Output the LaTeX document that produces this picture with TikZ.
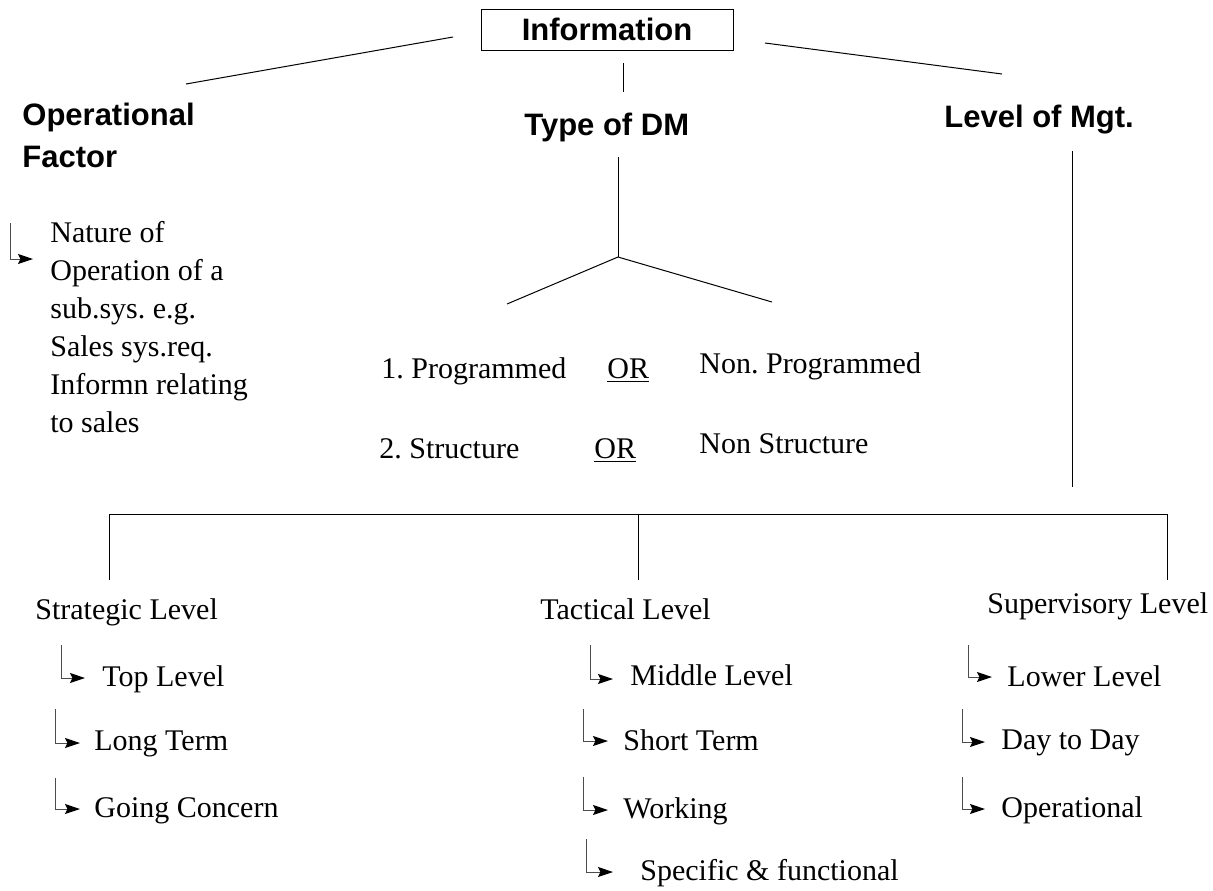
\documentclass[tikz,border=0pt]{standalone}
\usepackage{fontspec}
\setmainfont{Liberation Serif}
\newfontfamily\hdfont{Liberation Sans}
\usetikzlibrary{arrows.meta}
\frenchspacing
\begin{document}
\begin{tikzpicture}[x=0.5pt,y=-0.5pt,
  ln/.style={line width=0.5pt, draw=black},
  arr/.style={line width=0.5pt, draw=black!70, -{Stealth[length=7.5pt,width=5pt,inset=1.2pt,black]}},
  hd/.style={font=\hdfont\bfseries\fontsize{15.5}{18}\selectfont, inner sep=0pt, anchor=base west},
  tx/.style={font=\fontsize{15}{18}\selectfont, inner sep=0pt, anchor=base west},
]
\useasboundingbox (0,0) rectangle (1213,890);

% top box
\node[draw, line width=0.5pt, minimum width=126pt, minimum height=20.5pt, inner sep=0pt,
      font=\hdfont\bfseries\fontsize{15.5}{18}\selectfont] (info) at (607,29.5) {Information};

% headings
\node[hd] (opf1) at (22,125) {Operational};
\node[hd] (opf2) at (22,167) {Factor};
\node[hd] (tdm) at (524,135) {Type of DM};
\node[hd] (lom) at (944,127) {Level of Mgt.};

% lines from the top
\coordinate (l1a) at (186,84);  \coordinate (l1b) at (453,37);
\coordinate (r1a) at (765,43);  \coordinate (r1b) at (1002,74);
\coordinate (c1a) at (623,63);  \coordinate (c1b) at (623,92);
\draw[ln] (l1a) -- (l1b);
\draw[ln] (r1a) -- (r1b);
\draw[ln] (c1a) -- (c1b);

% type of DM fork
\coordinate (t0) at (618,157); \coordinate (tf) at (618,257);
\coordinate (tL) at (507,304); \coordinate (tR) at (772,302);
\draw[ln] (t0) -- (tf);
\draw[ln] (tL) -- (tf) -- (tR);

% operational factor text
\node[tx] (n1) at (50,242) {Nature of};
\node[tx] (n2) at (50,280) {Operation of a};
\node[tx] (n3) at (50,318) {sub.sys. e.g.};
\node[tx] (n4) at (50,356) {Sales sys.req.};
\node[tx] (n5) at (50,394) {Informn relating};
\node[tx] (n6) at (50,432) {to sales};
\coordinate (oa0) at (10,223); \coordinate (oa1) at (33,259);
\draw[arr] (oa0) |- (oa1);

% programmed / structure
\node[tx] (p1) at (381,378) {1. Programmed};
\node[tx] (or1) at (607,378) {\underline{OR}};
\node[tx] (np1) at (699,373) {Non. Programmed};
\node[tx] (p2) at (379,458) {2. Structure};
\node[tx] (or2) at (594,458) {\underline{OR}};
\node[tx] (np2) at (699,453) {Non Structure};

% level of management line and bus
\coordinate (m0) at (1072,151); \coordinate (m1) at (1072,487);
\draw[ln] (m0) -- (m1);
\coordinate (b1) at (109,514); \coordinate (b2) at (638,514); \coordinate (b3) at (1167,514);
\coordinate (d1) at (109,580); \coordinate (d2) at (638,580); \coordinate (d3) at (1167,580);
\draw[ln] (d1) -- (b1) -- (b3) -- (d3);
\draw[ln] (b2) -- (d2);

% levels
\node[tx] (sl) at (35,619) {Strategic Level};
\node[tx] (tl) at (540,619) {Tactical Level};
\node[tx] (svl) at (987,613) {Supervisory Level};

% strategic items
\node[tx] (s1) at (102,686) {Top Level};
\node[tx] (s2) at (94,750) {Long Term};
\node[tx] (s3) at (94,817) {Going Concern};
\coordinate (s1a) at (61,645); \coordinate (s1b) at (85,678);
\coordinate (s2a) at (55,709); \coordinate (s2b) at (80,743);
\coordinate (s3a) at (55,778); \coordinate (s3b) at (80,809);
\draw[arr] (s1a) |- (s1b);
\draw[arr] (s2a) |- (s2b);
\draw[arr] (s3a) |- (s3b);

% tactical items
\node[tx] (t1) at (630,685) {Middle Level};
\node[tx] (t2) at (623,750) {Short Term};
\node[tx] (t3) at (623,818) {Working};
\node[tx] (t4) at (640,880) {Specific \& functional};
\coordinate (t1a) at (590,645); \coordinate (t1b) at (613,679);
\coordinate (t2a) at (583,709); \coordinate (t2b) at (608,741);
\coordinate (t3a) at (583,777); \coordinate (t3b) at (608,810);
\coordinate (t4a) at (586,839); \coordinate (t4b) at (613,872);
\draw[arr] (t1a) |- (t1b);
\draw[arr] (t2a) |- (t2b);
\draw[arr] (t3a) |- (t3b);
\draw[arr] (t4a) |- (t4b);

% supervisory items
\node[tx] (v1) at (1007,686) {Lower Level};
\node[tx] (v2) at (1001,749) {Day to Day};
\node[tx] (v3) at (1001,817) {Operational};
\coordinate (v1a) at (968,645); \coordinate (v1b) at (992,677);
\coordinate (v2a) at (962,709); \coordinate (v2b) at (985,742);
\coordinate (v3a) at (962,777); \coordinate (v3b) at (985,809);
\draw[arr] (v1a) |- (v1b);
\draw[arr] (v2a) |- (v2b);
\draw[arr] (v3a) |- (v3b);
\end{tikzpicture}
\end{document}
